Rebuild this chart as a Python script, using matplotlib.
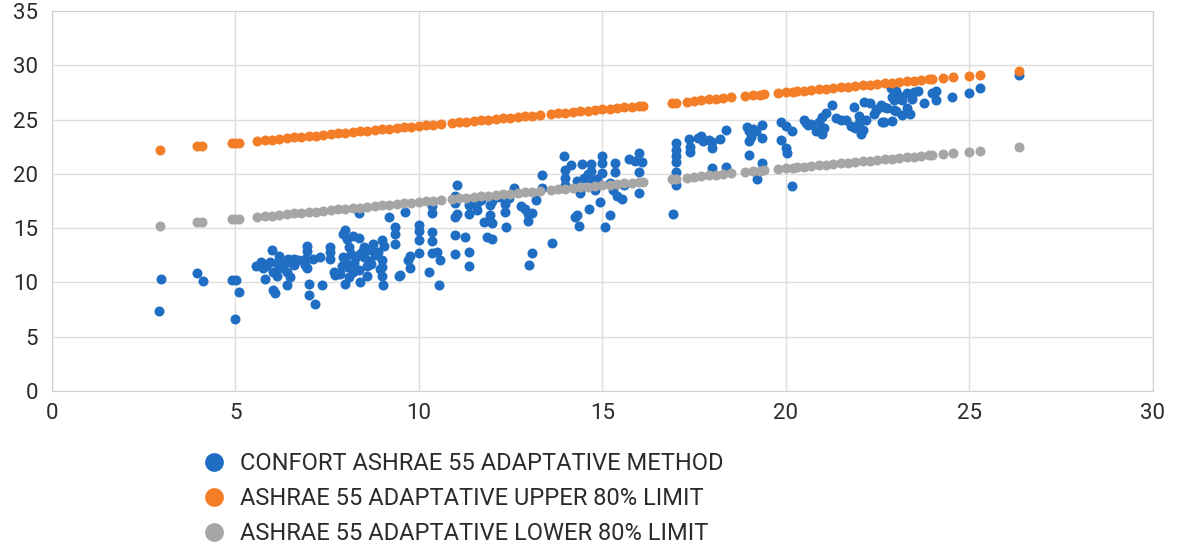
import matplotlib.pyplot as plt
from matplotlib.lines import Line2D

# comfort temperature points (x = mean outdoor temp, y = comfort temp)
blue_x = [
    2.93, 2.98, 3.95, 4.12, 4.9, 5.02, 5.1, 5.0,
    5.58, 5.71, 5.85, 6.0, 5.95, 6.04, 5.82, 6.13, 6.2, 6.22, 6.32, 6.4, 6.5, 6.41, 6.59, 6.04, 6.09,
    6.95, 6.95, 6.9, 6.9, 6.95, 7.0, 7.0, 7.18, 7.13, 7.3, 7.36, 7.59, 7.59, 7.59, 7.68, 7.72,
    6.25, 6.45, 6.3, 6.6, 6.15, 5.75, 6.5, 6.7,
    7.85, 8.0, 7.95, 8.05, 8.1, 7.98, 8.2, 8.36, 8.36, 8.4, 8.36, 8.55, 8.6, 8.6, 8.75, 9.0, 9.0,
    9.04, 9.0, 9.18, 9.36, 9.36, 9.36, 9.45, 7.95, 8.0, 8.15, 8.25, 8.3, 8.45, 8.5, 8.65, 8.7, 8.8,
    8.9, 8.95, 8.2, 8.1, 7.9, 8.05, 8.4, 8.5, 8.7, 9.05, 9.0, 9.5,
    9.63, 9.7, 9.77, 9.77, 10.0, 10.0, 10.0, 10.0, 10.27, 10.36, 10.36, 10.36, 10.36, 10.36, 10.5,
    10.57, 10.54, 11.05, 11.0, 11.0, 11.05, 11.0, 11.0, 11.0, 11.27, 11.36, 11.36, 11.36, 11.36,
    11.59, 11.59, 11.77, 11.86, 12.0, 12.0, 11.95, 11.95, 12.0, 12.39, 12.36, 12.36, 12.59, 12.8,
    12.97, 12.97, 13.1, 13.2, 13.36, 13.36, 13.0, 13.1, 13.63, 12.9, 12.45, 12.2, 11.7,
    13.95, 14.0, 14.0, 14.0, 14.32, 14.27, 14.36, 14.3, 14.45, 14.7, 14.7, 14.7, 14.63, 14.6, 15.0,
    15.0, 15.0, 14.95, 15.09, 15.2, 15.36, 15.36, 15.3, 15.4, 15.54, 15.72, 15.9, 16.0, 16.09, 16.0,
    16.0, 14.15, 14.5, 14.85, 15.2, 15.6, 14.4, 14.8,
    16.93, 17.0, 17.0, 17.0, 17.0, 17.0, 17.0, 17.36, 17.4, 17.4, 17.7, 17.75, 18.0, 18.0, 18.0,
    18.2, 18.36, 18.36, 17.6, 17.9,
    18.95, 19.0, 19.05, 19.0, 19.2, 19.36, 19.36, 19.0, 19.36, 19.23, 19.86, 20.0, 19.86, 20.0,
    20.03, 20.18, 20.16, 19.1,
    20.5, 20.6, 20.7, 20.82, 21.0, 20.9, 21.0, 21.1, 21.27, 21.36, 21.63, 21.77, 21.86, 22.0, 22.0,
    22.04, 22.13, 22.2, 22.3, 22.45, 22.6, 22.63, 22.9, 22.95, 22.9, 20.55, 21.05, 20.95, 21.5,
    21.9, 22.1, 22.4, 22.5, 22.75,
    22.86, 22.68, 22.68, 23.0, 22.95, 23.18, 23.18, 23.3, 23.4, 23.3, 23.5, 23.6, 23.77, 24.0,
    24.1, 24.1, 24.54, 25.0, 25.3, 26.36, 23.1, 23.45, 23.0,
]
blue_y = [
    7.4, 10.3, 10.85, 10.1, 10.2, 10.2, 9.1, 6.6,
    11.5, 11.9, 11.5, 13.0, 11.9, 11.0, 10.3, 11.8, 12.4, 11.4, 11.9, 11.0, 10.5, 9.8, 12.2, 9.3, 9.0,
    13.4, 12.9, 12.2, 11.6, 11.3, 9.9, 8.8, 8.0, 12.2, 12.3, 9.8, 13.3, 12.8, 12.2, 11.0, 10.7,
    12.0, 12.2, 11.3, 11.6, 10.6, 11.3, 11.9, 12.1,
    10.8, 9.9, 14.5, 14.0, 13.3, 14.8, 14.3, 14.1, 16.4, 12.6, 11.1, 12.9, 11.5, 10.6, 13.5, 13.9, 12.1,
    9.8, 10.6, 16.0, 15.1, 14.5, 13.5, 10.6, 12.3, 12.0, 12.6, 11.8, 12.3, 12.8, 12.3, 12.0, 11.7, 12.5,
    12.8, 11.2, 11.0, 10.5, 11.5, 11.4, 10.0, 13.3, 13.0, 13.4, 11.4, 10.7,
    16.5, 12.1, 12.4, 11.3, 15.3, 14.7, 13.9, 12.7, 11.0, 17.0, 16.4, 14.6, 13.8, 12.7, 12.8,
    12.1, 9.76, 19.0, 18.0, 17.3, 16.3, 16.0, 14.4, 12.6, 14.2, 12.8, 11.5, 17.1, 16.3,
    16.7, 17.3, 15.6, 14.2, 14.0, 15.5, 16.2, 17.1, 17.5, 15.1, 16.5, 17.2, 18.7, 17.0,
    16.3, 15.7, 16.4, 17.6, 19.9, 18.7, 11.6, 12.7, 13.6, 16.8, 17.8, 17.9, 17.6,
    21.6, 20.4, 19.6, 19.0, 16.2, 16.0, 15.2, 19.3, 20.9, 20.9, 20.3, 19.4, 16.8, 20.0, 21.6,
    21.0, 20.1, 17.4, 15.1, 16.2, 21.0, 20.2, 18.5, 18.0, 17.7, 21.4, 21.2, 21.9, 21.1, 20.2,
    18.2, 20.8, 19.6, 19.5, 19.2, 19.0, 18.2, 18.5,
    16.3, 22.8, 22.2, 21.6, 21.1, 20.2, 19.0, 23.2, 22.5, 22.0, 23.5, 23.0, 22.9, 22.4, 20.5,
    23.2, 24.0, 20.6, 23.3, 23.1,
    24.3, 23.9, 23.4, 23.0, 23.9, 24.5, 23.3, 21.7, 21.0, 19.5, 24.8, 24.4, 23.1, 22.35,
    21.9, 23.9, 18.9, 24.1,
    24.95, 24.5, 24.6, 23.9, 23.7, 24.8, 25.2, 25.6, 26.3, 25.1, 24.95, 24.4, 26.2, 25.3, 24.7,
    23.7, 26.6, 25.0, 26.5, 25.9, 26.3, 24.8, 24.9, 25.9, 27.1, 24.7, 24.2, 23.9, 25.0,
    24.2, 24.0, 25.5, 26.0, 26.1,
    27.9, 26.2, 24.8, 25.8, 26.8, 25.4, 26.8, 26.1, 25.5, 27.4, 27.5, 27.6, 26.5, 27.4,
    27.6, 26.8, 27.1, 27.4, 27.9, 29.1, 27.2, 26.9, 27.6,
]

# 80% acceptability limits
limit_x = [
    2.95, 3.95, 4.1, 4.9, 5.0, 5.1,
    5.6, 5.8, 6.0, 6.2, 6.4, 6.6, 6.8, 7.0, 7.2, 7.4, 7.6, 7.8, 8.0, 8.2, 8.4, 8.6, 8.8, 9.0,
    9.2, 9.4, 9.6, 9.8, 10.0, 10.2, 10.4, 10.6, 10.9, 11.1, 11.3, 11.5, 11.7, 11.9, 12.1, 12.3,
    12.5, 12.7, 12.9, 13.1, 13.3, 13.6, 13.8, 14.0, 14.2, 14.4, 14.6, 14.8, 15.0, 15.2, 15.4,
    15.6, 15.8, 16.0, 16.1,
    16.9, 17.0, 17.3, 17.5, 17.7, 17.9, 18.1, 18.3, 18.5, 18.9, 19.1, 19.3, 19.4,
    19.8, 20.0, 20.2, 20.3, 20.5, 20.7, 20.9, 21.1, 21.3, 21.5, 21.7, 21.9, 22.1, 22.3, 22.5,
    22.7, 22.9, 23.1, 23.3, 23.5, 23.7, 23.9, 24.0, 24.3, 24.55, 25.0, 25.3, 26.35,
]
upper_y = [
    22.21, 22.52, 22.57, 22.82, 22.85, 22.88,
    23.04, 23.10, 23.16, 23.22, 23.28, 23.35, 23.41, 23.47, 23.53, 23.59, 23.66, 23.72, 23.78,
    23.84, 23.90, 23.97, 24.03, 24.09,
    24.15, 24.21, 24.28, 24.34, 24.40, 24.46, 24.52, 24.59, 24.68, 24.74, 24.80, 24.87, 24.93,
    24.99, 25.05, 25.11,
    25.18, 25.24, 25.30, 25.36, 25.42, 25.52, 25.58, 25.64, 25.70, 25.76, 25.83, 25.89, 25.95,
    26.01, 26.07, 26.14, 26.20, 26.26, 26.29,
    26.54, 26.57, 26.66, 26.73, 26.79, 26.85, 26.91, 26.97, 27.04, 27.16, 27.22, 27.28, 27.31,
    27.44, 27.50, 27.56, 27.59, 27.66, 27.72, 27.78, 27.84, 27.90, 27.97, 28.03, 28.09, 28.15,
    28.21, 28.28,
    28.34, 28.40, 28.46, 28.52, 28.59, 28.65, 28.71, 28.74, 28.83, 28.91, 29.05, 29.14, 29.47,
]
lower_y = [
    15.21, 15.52, 15.57, 15.82, 15.85, 15.88,
    16.04, 16.10, 16.16, 16.22, 16.28, 16.35, 16.41, 16.47, 16.53, 16.59, 16.66, 16.72, 16.78,
    16.84, 16.90, 16.97, 17.03, 17.09,
    17.15, 17.21, 17.28, 17.34, 17.40, 17.46, 17.52, 17.59, 17.68, 17.74, 17.80, 17.87, 17.93,
    17.99, 18.05, 18.11,
    18.18, 18.24, 18.30, 18.36, 18.42, 18.52, 18.58, 18.64, 18.70, 18.76, 18.83, 18.89, 18.95,
    19.01, 19.07, 19.14, 19.20, 19.26, 19.29,
    19.54, 19.57, 19.66, 19.73, 19.79, 19.85, 19.91, 19.97, 20.04, 20.16, 20.22, 20.28, 20.31,
    20.44, 20.50, 20.56, 20.59, 20.66, 20.72, 20.78, 20.84, 20.90, 20.97, 21.03, 21.09, 21.15,
    21.21, 21.28,
    21.34, 21.40, 21.46, 21.52, 21.59, 21.65, 21.71, 21.74, 21.83, 21.91, 22.05, 22.14, 22.47,
]
assert len(blue_x) == len(blue_y)
assert len(limit_x) == len(upper_y) == len(lower_y)

labels = ["CONFORT ASHRAE 55 ADAPTATIVE METHOD",
          "ASHRAE 55 ADAPTATIVE UPPER 80% LIMIT",
          "ASHRAE 55 ADAPTATIVE LOWER 80% LIMIT"]
colors = ["#1f6ec3", "#f47e27", "#a6a6a6"]

plt.rcParams['font.family'] = ['Roboto', 'DejaVu Sans']

fig, ax = plt.subplots(figsize=(11.78, 5.49), dpi=100)
fig.subplots_adjust(left=0.0439, right=0.9785, bottom=0.2878, top=0.98)

ax.scatter(blue_x, blue_y, s=52, color=colors[0], linewidths=0, zorder=3)
ax.scatter(limit_x, upper_y, s=52, color=colors[1], linewidths=0, zorder=4)
ax.scatter(limit_x, lower_y, s=52, color=colors[2], linewidths=0, zorder=4)

ax.set_xlim(0, 30)
ax.set_ylim(0, 35)
ax.set_xticks(range(0, 31, 5))
ax.set_yticks(range(0, 36, 5))
ax.grid(True, color="#dedede", linewidth=1)
ax.set_axisbelow(True)
for s in ax.spines.values():
    s.set_color("#d0d0d0")
ax.tick_params(length=0, labelsize=16, colors="#2b2b2b")
ax.tick_params(axis="x", pad=9)
ax.tick_params(axis="y", pad=10)

handles = [Line2D([], [], marker="o", ls="", color=c, markersize=13.5, markeredgewidth=0)
           for c in colors]
leg = fig.legend(handles, labels, loc="upper left", bbox_to_anchor=(0.1716, 0.176),
                 frameon=False, borderpad=0, borderaxespad=0, handlelength=1.0,
                 handletextpad=0.6, labelspacing=0.5, prop={"size": 17})
for t in leg.get_texts():
    t.set_color("#2b2b2b")

fig.savefig("out.png", dpi=100)
